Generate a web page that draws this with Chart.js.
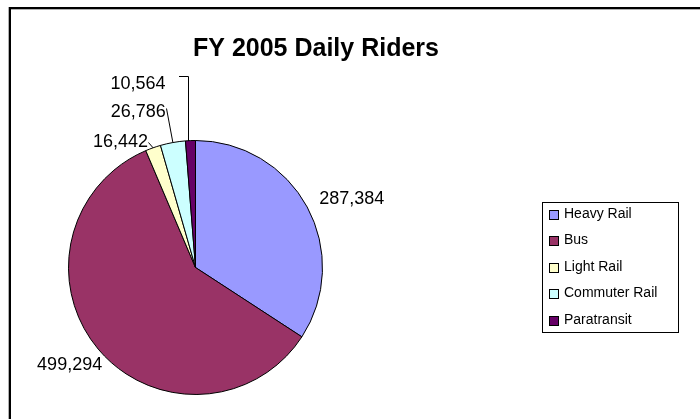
<!DOCTYPE html>
<html>
<head>
<meta charset="utf-8">
<script src="https://cdn.jsdelivr.net/npm/chart.js@4/dist/chart.umd.min.js"></script>
<style>
  html, body { margin: 0; padding: 0; background: #fff; }
  #c { display: block; }
</style>
</head>
<body>
<canvas id="c" width="700" height="419"></canvas>
<script>
// ---- data ----
const categories = ['Heavy Rail', 'Bus', 'Light Rail', 'Commuter Rail', 'Paratransit'];
const riders = [287384, 499294, 16442, 26786, 10564];
const titleText = 'FY 2005 Daily Riders';

// ---- styles ----
const sliceColors = ['#9999FF', '#993366', '#FFFFCC', '#CCFFFF', '#660066'];
// label anchor offset from each slice's outer mid-point, alignment, leader type
const labelPlacement = [
  { dx: 12, dy: -3, align: 'left', leader: 'none' },
  { dx: 4, dy: 21, align: 'right', leader: 'none' },
  { dx: -5, dy: -1, align: 'right', leader: 'straight', ly: -5 },
  { dx: -7, dy: -26, align: 'right', leader: 'straight', ly: -9 },
  { dx: -25, dy: -52, align: 'right', leader: 'elbow', ly: -13, gap: 14 }
];
const FONT = '"Liberation Sans", Arial, sans-serif';

const fmt = v => v.toLocaleString('en-US');

const decorPlugin = {
  id: 'decor',
  beforeDraw(chart) {
    const ctx = chart.ctx;
    ctx.save();
    ctx.fillStyle = '#fff';
    ctx.fillRect(0, 0, chart.width, chart.height);
    // frame (top & left edges visible)
    ctx.fillStyle = '#b0b0b0';
    ctx.fillRect(8, 9, chart.width, 1);
    ctx.fillRect(8, 7, 1, chart.height);
    ctx.fillStyle = '#000';
    ctx.fillRect(9, 7, chart.width, 2);
    ctx.fillRect(9, 7, 2, chart.height);
    ctx.restore();
  },
  afterDraw(chart) {
    const ctx = chart.ctx;
    ctx.save();
    // title
    ctx.fillStyle = '#000';
    ctx.font = 'bold 25px ' + FONT;
    ctx.textAlign = 'left';
    ctx.textBaseline = 'alphabetic';
    ctx.fillText(titleText, 193, 56);

    // data labels
    const meta = chart.getDatasetMeta(0);
    ctx.font = '18px ' + FONT;
    ctx.strokeStyle = '#000';
    ctx.lineWidth = 1;
    meta.data.forEach((arc, i) => {
      const p = labelPlacement[i];
      const mid = (arc.startAngle + arc.endAngle) / 2;
      const ax = arc.x + Math.cos(mid) * arc.outerRadius;
      const ay = arc.y + Math.sin(mid) * arc.outerRadius;
      const tx = ax + p.dx, ty = ay + p.dy;
      ctx.textAlign = p.align;
      ctx.fillText(fmt(chart.data.datasets[0].data[i]), tx, ty);
      if (p.leader === 'straight') {
        ctx.beginPath();
        ctx.moveTo(Math.round(tx) + 0.5, Math.round(ty + p.ly) + 0.5);
        ctx.lineTo(ax, ay);
        ctx.stroke();
      } else if (p.leader === 'elbow') {
        const yy = Math.round(ty + p.ly) + 0.5;
        const xx = Math.round(ax - 2) + 0.5;
        ctx.beginPath();
        ctx.moveTo(Math.round(tx + p.gap), yy);
        ctx.lineTo(xx, yy);
        ctx.lineTo(xx, Math.round(ay));
        ctx.stroke();
      }
    });

    // legend
    const lx = 542, ly = 202, lw = 136, lh = 130;
    ctx.strokeStyle = '#000';
    ctx.lineWidth = 1;
    ctx.strokeRect(lx + 0.5, ly + 0.5, lw, lh);
    ctx.font = '14px ' + FONT;
    ctx.textAlign = 'left';
    ctx.textBaseline = 'middle';
    chart.data.labels.forEach((lab, i) => {
      const cy = 214 + i * 26.5;
      const sy = Math.round(cy - 4.5);
      ctx.fillStyle = chart.data.datasets[0].backgroundColor[i];
      ctx.fillRect(549, sy, 9, 9);
      ctx.strokeStyle = '#000';
      ctx.strokeRect(549.5, sy + 0.5, 9, 9);
      ctx.fillStyle = '#000';
      ctx.fillText(lab, 564, cy);
    });
    ctx.restore();
  }
};

new Chart(document.getElementById('c'), {
  type: 'pie',
  data: {
    labels: categories,
    datasets: [{
      data: riders,
      backgroundColor: sliceColors,
      borderColor: '#000',
      borderWidth: 1
    }]
  },
  options: {
    responsive: false,
    animation: false,
    events: [],
    devicePixelRatio: 1,
    layout: { padding: { left: 68, top: 140, right: 377, bottom: 24 } },
    plugins: {
      legend: { display: false },
      title: { display: false },
      tooltip: { enabled: false }
    }
  },
  plugins: [decorPlugin]
});
</script>
</body>
</html>
